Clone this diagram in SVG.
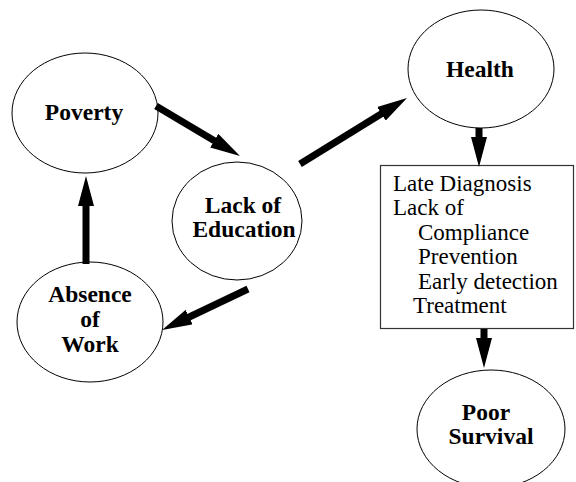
<svg xmlns="http://www.w3.org/2000/svg" width="576" height="482" viewBox="0 0 576 482">
  <style>
    .node { fill: #ffffff; stroke: #000000; stroke-width: 1; }
    .lbl { font-family: "Liberation Serif", "Times New Roman", serif; font-weight: bold; font-size: 23.5px; fill: #000000; text-anchor: middle; }
    .box { fill: #ffffff; stroke: #333333; stroke-width: 1.2; }
    .item { font-family: "Liberation Serif", "Times New Roman", serif; font-size: 23px; fill: #000000; }
    .arrow { stroke: #000000; stroke-width: 7; fill: none; marker-end: url(#head); }
  </style>
  <defs>
    <marker id="head" markerUnits="userSpaceOnUse" markerWidth="30" markerHeight="16" viewBox="0 0 30 16" refX="8" refY="8" orient="auto">
      <path d="M0,0 L30,8 L0,16 z" fill="#000000"/>
    </marker>
  </defs>
  <rect width="576" height="482" fill="#ffffff"/>

  <g id="poverty">
    <ellipse class="node" cx="85" cy="113" rx="73" ry="60"/>
    <text class="lbl" x="84" y="120">Poverty</text>
  </g>

  <g id="lack-of-education">
    <ellipse class="node" cx="237" cy="221" rx="65" ry="59"/>
    <text class="lbl" x="243" y="213">Lack of</text>
    <text class="lbl" x="244" y="237">Education</text>
  </g>

  <g id="absence-of-work">
    <ellipse class="node" cx="90" cy="322" rx="73" ry="60"/>
    <text class="lbl" x="90" y="302">Absence</text>
    <text class="lbl" x="90" y="327">of</text>
    <text class="lbl" x="90" y="352">Work</text>
  </g>

  <g id="health">
    <ellipse class="node" cx="481" cy="69" rx="73" ry="59"/>
    <text class="lbl" x="480" y="77">Health</text>
  </g>

  <g id="factors">
    <rect class="box" x="380.5" y="165.5" width="193" height="163"/>
    <text class="item" x="393" y="191">Late Diagnosis</text>
    <text class="item" x="393" y="215">Lack of</text>
    <text class="item" x="418" y="240">Compliance</text>
    <text class="item" x="418" y="264">Prevention</text>
    <text class="item" x="418" y="289">Early detection</text>
    <text class="item" x="413" y="313">Treatment</text>
  </g>

  <g id="poor-survival">
    <ellipse class="node" cx="491" cy="429" rx="74" ry="59"/>
    <text class="lbl" x="486" y="420">Poor</text>
    <text class="lbl" x="491" y="444">Survival</text>
  </g>

  <g id="connectors">
    <line class="arrow" x1="156" y1="106" x2="221.1" y2="144.8"/>
    <line class="arrow" x1="300" y1="164" x2="388.3" y2="109.6"/>
    <line class="arrow" x1="248" y1="289" x2="181.9" y2="320.5"/>
    <line class="arrow" x1="86" y1="264" x2="86" y2="198"/>
    <line class="arrow" x1="479" y1="128" x2="479" y2="145"/>
    <line class="arrow" x1="484" y1="329" x2="484" y2="346"/>
  </g>
</svg>
